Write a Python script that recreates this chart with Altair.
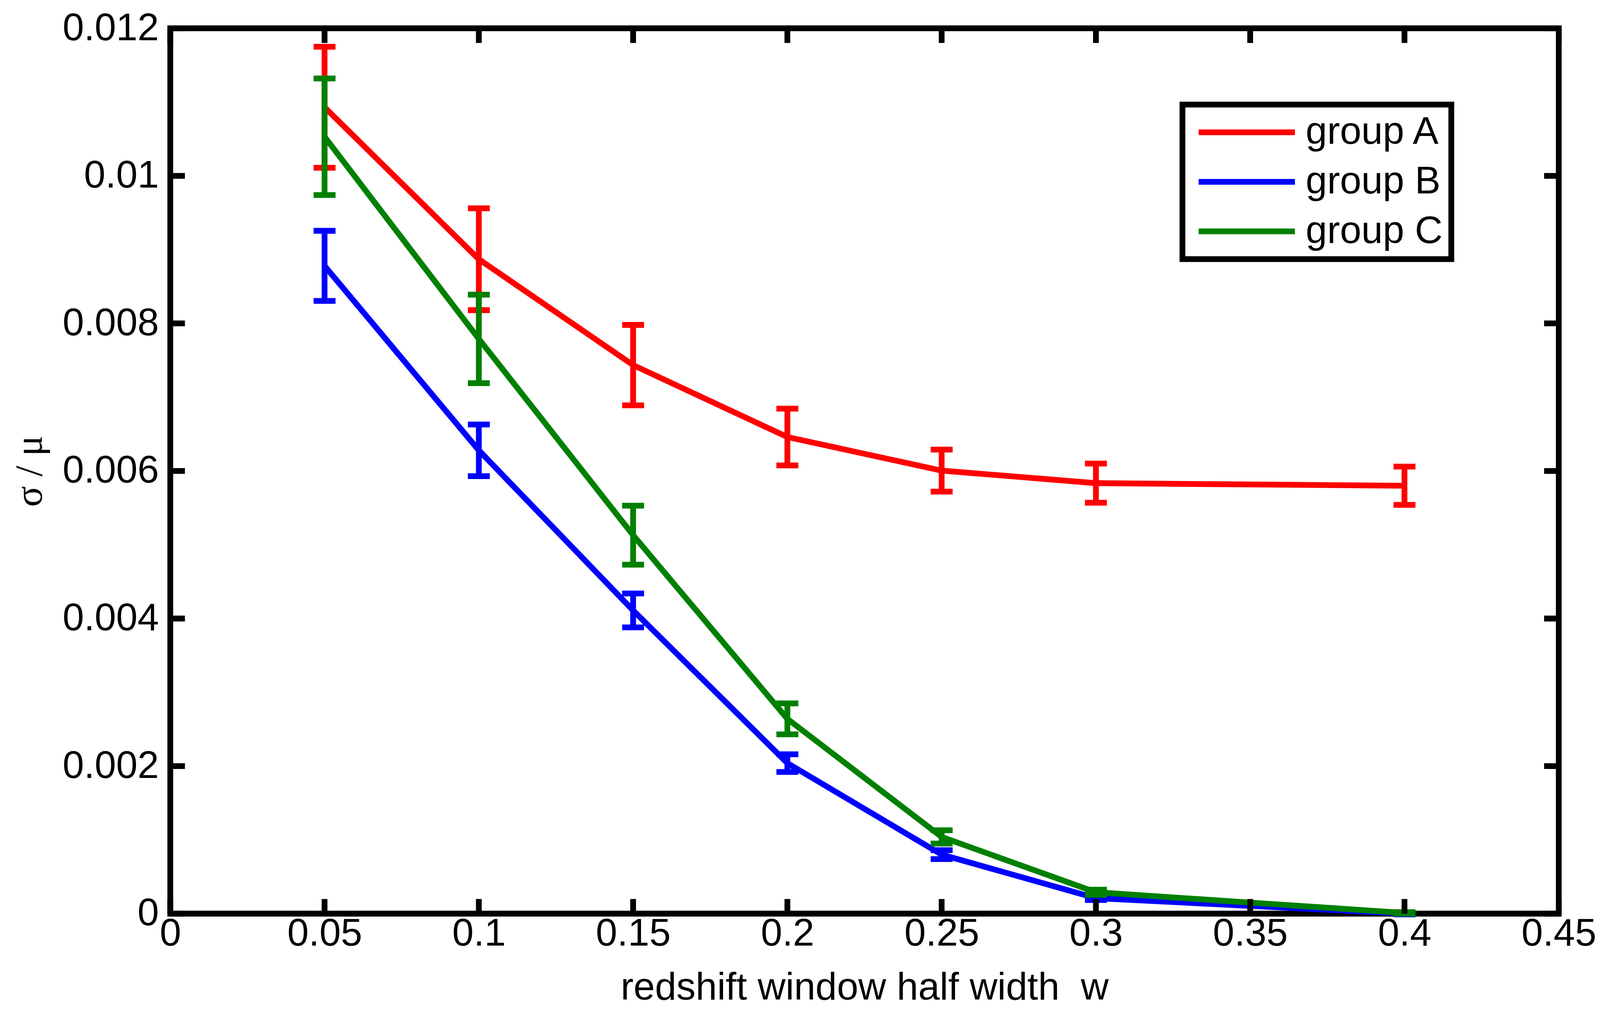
import altair as alt
import pandas as pd

# ---------------- data ----------------
w_vals = [0.05, 0.1, 0.15, 0.2, 0.25, 0.3, 0.4]
groups = ["group A", "group B", "group C"]
colors = ["#ff0000", "#0000ff", "#008000"]

mean_a = [0.01093, 0.00887, 0.007435, 0.00646, 0.006005, 0.005835, 0.00580]
err_a = [0.00082, 0.00069, 0.000545, 0.000385, 0.000285, 0.000265, 0.00026]

mean_b = [0.00878, 0.00628, 0.00411, 0.00204, 0.00080, 0.00021, 0.0]
err_b = [0.000475, 0.00035, 0.00023, 0.00012, 0.00006, 0.000025, 0.00001]

mean_c = [0.01053, 0.00779, 0.00513, 0.00264, 0.00104, 0.00029, 0.00001]
err_c = [0.00079, 0.00060, 0.00040, 0.00021, 0.00009, 0.000035, 0.00001]

x_ticks = [0, 0.05, 0.1, 0.15, 0.2, 0.25, 0.3, 0.35, 0.4, 0.45]
y_ticks = [0, 0.002, 0.004, 0.006, 0.008, 0.01, 0.012]

x_title = "redshift window half width\u00a0 w"
y_title = "σ / μ"

# ---------------- layout / style ----------------
W, H = 3605, 2298
LW = 15
TICK = 38
FONT = "Liberation Sans"

rows = []
for g, m, e in zip(groups, [mean_a, mean_b, mean_c], [err_a, err_b, err_c]):
    for x, mv, ev in zip(w_vals, m, e):
        rows.append({"group": g, "w": x, "v": mv, "lo": mv - ev, "hi": mv + ev})
df = pd.DataFrame(rows)
xt = pd.DataFrame({"w": x_ticks})
yt = pd.DataFrame({"v": y_ticks})

xs = alt.Scale(domain=[0, 0.45], nice=False, zero=False)
ys = alt.Scale(domain=[0, 0.012], nice=False, zero=False)

xa = alt.Axis(values=x_ticks, format="~g", ticks=False, tickSize=0, domain=False, grid=False,
              labelFont=FONT, labelFontSize=100, labelColor="black", labelLimit=1000,
              labelPadding=3, labelFlush=False, labelOverlap=False,
              title=x_title, titleFont=FONT, titleFontSize=100,
              titleFontWeight="normal", titleColor="black",
              titleX=W / 2, titleY=222, titleBaseline="alphabetic")
ya = alt.Axis(values=y_ticks, format="~g", ticks=False, tickSize=0, domain=False, grid=False,
              labelFont=FONT, labelFontSize=100, labelColor="black", labelLimit=1000,
              labelPadding=30, labelFlush=False, labelOverlap=False,
              title=y_title, titleFont="Liberation Serif", titleFontSize=100,
              titleFontWeight="normal", titleColor="black",
              titleX=-334, titleY=H / 2, titleBaseline="alphabetic", titleAngle=270)

X = lambda f: alt.X(f + ":Q", scale=xs, axis=xa)
Y = lambda f: alt.Y(f + ":Q", scale=ys, axis=ya)

legend = alt.Legend(
    orient="none", legendX=2628, legendY=198, title=None,
    strokeColor="black", fillColor="white", padding=22, rowPadding=28.5,
    symbolType="M-5,0H5", symbolSize=2500, symbolStrokeWidth=LW,
    symbolOffset=95, labelOffset=103,
    labelFont=FONT, labelFontSize=100, labelColor="black", labelLimit=1000,
)
color_enc = alt.Color("group:N", scale=alt.Scale(domain=groups, range=colors), legend=legend)

layers = []
base = alt.Chart(df)
for g, c in zip(groups, colors):
    sub = base.transform_filter(alt.datum.group == g)
    layers.append(sub.mark_rule(strokeWidth=LW, color=c).encode(x=X("w"), y=Y("lo"), y2="hi:Q"))
    layers.append(sub.mark_tick(orient="horizontal", size=57, thickness=LW, color=c, opacity=1)
                  .encode(x=X("w"), y=Y("lo")))
    layers.append(sub.mark_tick(orient="horizontal", size=57, thickness=LW, color=c, opacity=1)
                  .encode(x=X("w"), y=Y("hi")))
    layers.append(sub.mark_line(strokeWidth=LW).encode(x=X("w"), y=Y("v"), color=color_enc))

tick_bottom = alt.Chart(xt).mark_rule(color="black", strokeWidth=LW).encode(
    x=X("w"), y=alt.value(H), y2=alt.value(H - TICK))
tick_top = alt.Chart(xt).mark_rule(color="black", strokeWidth=LW).encode(
    x=X("w"), y=alt.value(0), y2=alt.value(TICK))
tick_left = alt.Chart(yt).mark_rule(color="black", strokeWidth=LW).encode(
    y=Y("v"), x=alt.value(0), x2=alt.value(TICK))
tick_right = alt.Chart(yt).mark_rule(color="black", strokeWidth=LW).encode(
    y=Y("v"), x=alt.value(W), x2=alt.value(W - TICK))

chart = alt.layer(*layers, tick_bottom, tick_top, tick_left, tick_right).properties(
    width=W, height=H,
    autosize=alt.AutoSizeParams(type="none"),
    padding={"left": 434, "top": 47, "right": 99, "bottom": 240},
    background="white",
).configure_view(stroke="black", strokeWidth=LW).configure_legend(strokeWidth=LW)

chart.save("out.html", embed_options={"renderer": "svg", "actions": False})
